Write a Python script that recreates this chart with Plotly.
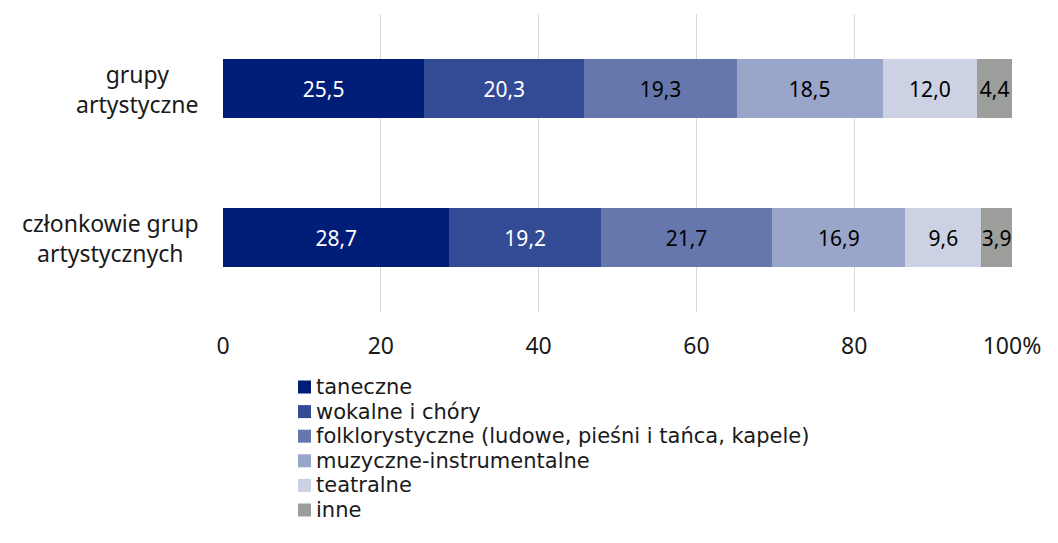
import plotly.graph_objects as go

categories = ["grupy<br>artystyczne", "członkowie grup<br>artystycznych"]
series_names = ["taneczne", "wokalne i chóry", "folklorystyczne (ludowe, pieśni i tańca, kapele)",
                "muzyczne-instrumentalne", "teatralne", "inne"]
taneczne = [25.5, 28.7]
wokalne = [20.3, 19.2]
folklorystyczne = [19.3, 21.7]
muzyczne = [18.5, 16.9]
teatralne = [12.0, 9.6]
inne = [4.4, 3.9]
tick_vals = [0, 20, 40, 60, 80, 100]
tick_text = ["0", "20", "40", "60", "80", "100%"]

series_values = [taneczne, wokalne, folklorystyczne, muzyczne, teatralne, inne]
colors = ["#001d77", "#334a94", "#6677ad", "#99a5c9", "#ccd2e4", "#9c9e9b"]
text_colors = ["white", "white", "black", "black", "black", "black"]

FONT = "Noto Sans"
LEG_FONT = "DejaVu Sans"
TXT = "#1a1a1a"

# layout geometry (figure pixels)
W, H = 1058, 543
ML, MR, MT, MB = 215, 54, 6, 239
PW = W - ML - MR
PH = H - MT - MB

fig = go.Figure()
for name, vals, c, tc in zip(series_names, series_values, colors, text_colors):
    fig.add_trace(go.Bar(
        y=categories, x=vals, name=name, orientation="h",
        marker=dict(color=c, line=dict(width=0)),
        width=0.4,
        texttemplate="%{x:.1f}", textposition="inside", insidetextanchor="middle",
        textangle=0,
        textfont=dict(color=tc, size=21, family=FONT),
        hoverinfo="skip", showlegend=False,
    ))

# category labels (centered multi-line)
for cat in categories:
    fig.add_annotation(x=0, xref="paper", y=cat, yref="y", text=cat, showarrow=False,
                       xanchor="right", xshift=-22, align="center",
                       font=dict(size=23, family=FONT, color=TXT))

# legend (drawn manually for tight row spacing)
ROW0 = 379      # figure px of first row centre
ROWH = 24.6
SQ_X = 290
TXT_X = 307
for i, (name, c) in enumerate(zip(series_names, colors)):
    py = ROW0 + i * ROWH
    yp = (H - MB - py) / PH
    fig.add_shape(type="rect", xref="paper", yref="paper",
                  xsizemode="pixel", ysizemode="pixel",
                  xanchor=(SQ_X - ML) / PW, yanchor=yp,
                  x0=0, x1=13, y0=-6.5, y1=6.5,
                  fillcolor=c, line=dict(width=0))
    fig.add_annotation(x=(TXT_X - ML) / PW, xref="paper", y=yp, yref="paper",
                       text=name, showarrow=False, xanchor="left", yanchor="middle",
                       borderpad=0,
                       font=dict(size=21, family=LEG_FONT, color=TXT))

fig.update_layout(
    barmode="stack",
    width=W, height=H,
    margin=dict(l=ML, r=MR, t=MT, b=MB),
    paper_bgcolor="white", plot_bgcolor="white",
    separators=", ",
    uniformtext=dict(minsize=21, mode="show"),
    font=dict(family=FONT, size=21, color=TXT),
    showlegend=False,
    xaxis=dict(range=[0, 100], tickvals=tick_vals, ticktext=tick_text,
               showgrid=True, gridcolor="#d9d9d9", gridwidth=1, zeroline=False,
               showline=False, ticks="", ticklabelstandoff=18,
               tickfont=dict(size=23, family=FONT, color=TXT)),
    yaxis=dict(autorange="reversed", showticklabels=False, showgrid=False,
               zeroline=False, showline=False, ticks=""),
)

fig.write_html("out.html")
